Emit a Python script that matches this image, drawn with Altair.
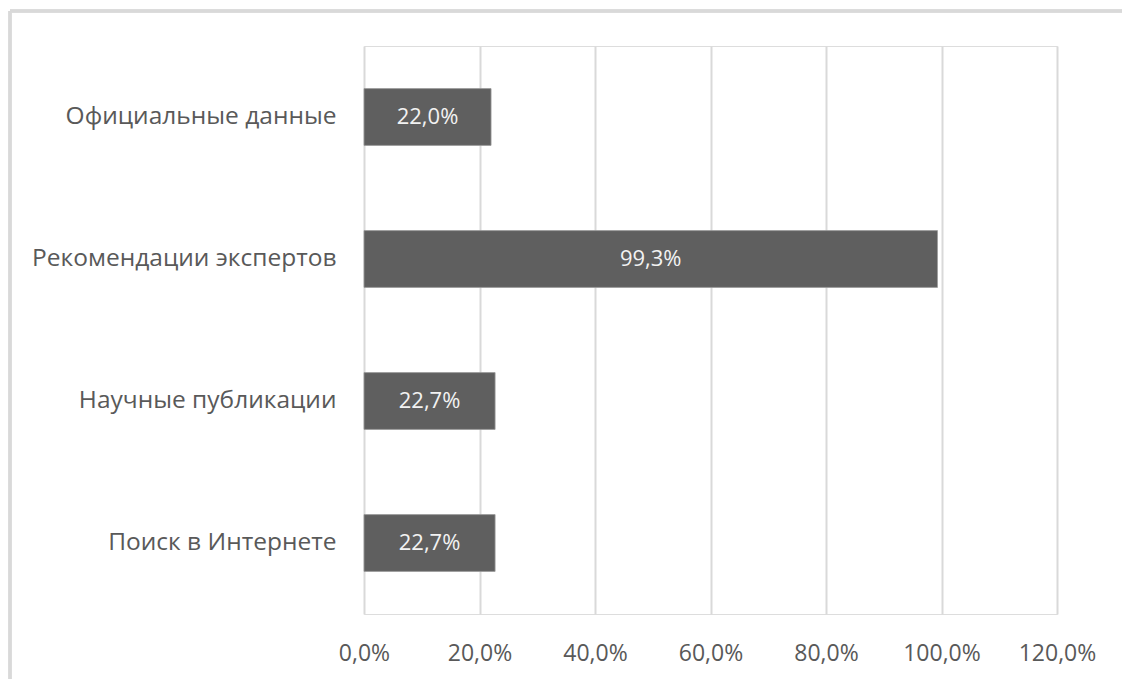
import altair as alt
import pandas as pd

categories = ["Официальные данные", "Рекомендации экспертов", "Научные публикации", "Поиск в Интернете"]
values = [0.220, 0.993, 0.227, 0.227]

df = pd.DataFrame({"cat": categories, "val": values})

FONT = "Open Sans"

base = alt.Chart(df).transform_calculate(
    lbl="replace(format(datum.val, '.1%'), '.', ',')"
)

y_enc = alt.Y("cat:N", sort=categories, title=None,
              scale=alt.Scale(paddingInner=0.6, paddingOuter=0.3),
              axis=alt.Axis(ticks=False, domain=False, labelFontSize=24.5, labelColor="#595959",
                            labelFont=FONT, labelPadding=28, labelLimit=400))

bars = base.mark_bar(color="#5f5f5f", stroke="#9a9a9a", strokeWidth=0.8).encode(
    x=alt.X("val:Q", title=None,
            scale=alt.Scale(domain=[0, 1.2], nice=False),
            axis=alt.Axis(values=[0, 0.2, 0.4, 0.6, 0.8, 1.0, 1.2], ticks=False, domain=False,
                          labelExpr="replace(format(datum.value, '.1%'), '.', ',')",
                          labelFontSize=23, labelColor="#595959", labelFont=FONT,
                          labelPadding=28, gridColor="#d9d9d9", gridWidth=2,
                          labelFlush=False)),
    y=y_enc,
)

text = base.transform_calculate(mid="datum.val / 2").mark_text(
    color="#f2f2f2", fontSize=22, font=FONT
).encode(
    x="mid:Q",
    y=alt.Y("cat:N", sort=categories),
    text="lbl:N",
)

border_top = alt.Chart(df).mark_rule(color="#d9d9d9", strokeWidth=3).encode(
    x=alt.value(-354), x2=alt.value(770), y=alt.value(-35)
)
border_left = alt.Chart(df).mark_rule(color="#d9d9d9", strokeWidth=3).encode(
    x=alt.value(-354), y=alt.value(-35), y2=alt.value(640)
)

chart = alt.layer(bars, text, border_top, border_left).properties(
    width=693, height=568,
    autosize=alt.AutoSizeParams(type="none"),
    padding={"left": 364, "top": 46, "right": 65, "bottom": 65},
).configure_view(stroke=None).configure(background="white")

chart.save("out.html", embed_options={"renderer": "svg", "actions": False})
